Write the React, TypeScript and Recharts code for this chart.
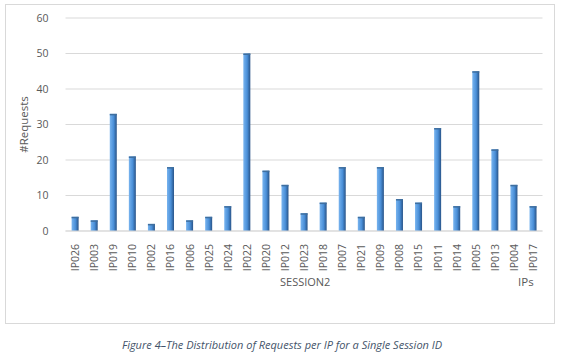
import { BarChart, Bar, XAxis, YAxis, CartesianGrid, Label } from "recharts";

const ips = [
  "IP026", "IP003", "IP019", "IP010", "IP002", "IP016", "IP006", "IP025", "IP024",
  "IP022", "IP020", "IP012", "IP023", "IP018", "IP007", "IP021", "IP009", "IP008",
  "IP015", "IP011", "IP014", "IP005", "IP013", "IP004", "IP017",
];
const requests = [4, 3, 33, 21, 2, 18, 3, 4, 7, 50, 17, 13, 5, 8, 18, 4, 18, 9, 8, 29, 7, 45, 23, 13, 7];
const yTicks = [0, 10, 20, 30, 40, 50, 60];

const data = ips.map((ip, i) => ({ ip, count: requests[i] }));

const FONT = "'Open Sans', 'Noto Sans', sans-serif";

// Slightly bevelled column: light face, darker right edge, thin cap on top
function Column(props: any) {
  const { x, y, width, height } = props;
  if (!height || height <= 0) return null;
  return (
    <g>
      <rect x={x} y={y} width={width} height={height} fill="url(#colFill)" />
      <rect x={x} y={y} width={width} height={1.5} fill="#3f6f9f" />
    </g>
  );
}

function IpTick(props: any) {
  const { x, y, payload } = props;
  return (
    <g transform={`translate(${x},${y})`}>
      <text
        transform="rotate(-90)"
        textAnchor="end"
        dy={4}
        fontSize={10.5}
        fill="#595959"
        fontFamily={FONT}
      >
        {payload.value}
      </text>
    </g>
  );
}

export default function App() {
  return (
    <div style={{ position: "absolute", left: 0, top: 0, width: 564, height: 357, background: "#fff" }}>
      <div
        style={{
          position: "absolute",
          left: 5,
          top: 4,
          width: 550,
          height: 320,
          border: "1px solid #d9d9d9",
          boxSizing: "border-box",
        }}
      />
      <div style={{ position: "absolute", left: 0, top: 0 }}>
        <BarChart
          width={564}
          height={357}
          data={data}
          margin={{ top: 18, right: 21.5, left: 5, bottom: 76 }}
          barCategoryGap="32%"
        >
          <defs>
            <linearGradient id="colFill" x1="0" y1="0" x2="1" y2="0">
              <stop offset="0%" stopColor="#78b4ef" />
              <stop offset="55%" stopColor="#4a8fd8" />
              <stop offset="75%" stopColor="#3a74b4" />
              <stop offset="100%" stopColor="#2a5488" />
            </linearGradient>
          </defs>
          <CartesianGrid vertical={false} stroke="#d9d9d9" strokeWidth={1} />
          <XAxis
            dataKey="ip"
            interval={0}
            height={50}
            axisLine={{ stroke: "#d9d9d9" }}
            tickLine={false}
            tick={<IpTick />}
            tickMargin={7}
          />
          <YAxis
            width={60.5}
            domain={[0, 60]}
            ticks={yTicks}
            axisLine={false}
            tickLine={false}
            tickMargin={11}
            tick={{ fontSize: 10.5, fill: "#595959", fontFamily: FONT }}
          >
            <Label
              value="#Requests"
              angle={-90}
              position="insideLeft"
              offset={19}
              style={{ fontSize: 11.5, fill: "#595959", fontFamily: FONT, textAnchor: "middle" }}
            />
          </YAxis>
          <Bar dataKey="count" shape={<Column />} isAnimationActive={false} />
        </BarChart>
      </div>
      <div
        style={{
          position: "absolute",
          left: 280,
          top: 274,
          fontFamily: FONT,
          fontSize: 11,
          color: "#595959",
        }}
      >
        SESSION2
      </div>
      <div
        style={{
          position: "absolute",
          left: 518,
          top: 274,
          fontFamily: FONT,
          fontSize: 11.5,
          color: "#595959",
        }}
      >
        IPs
      </div>
      <div
        style={{
          position: "absolute",
          left: 0,
          width: 564,
          top: 337,
          textAlign: "center",
          fontFamily: FONT,
          fontStyle: "italic",
          fontSize: 11,
          color: "#44546a",
        }}
      >
        Figure 4–The Distribution of Requests per IP for a Single Session ID
      </div>
    </div>
  );
}
